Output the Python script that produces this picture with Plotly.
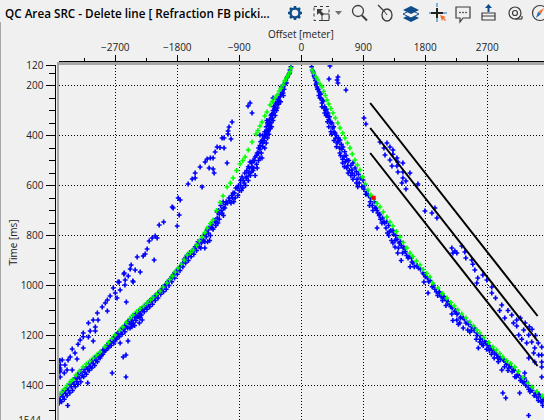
import plotly.graph_objects as go

W, H = 544, 420
BG = "#f0f0f0"

x_ticks = [-2700, -1800, -900, 0, 900, 1800, 2700]
x_minor = [-3150, -2250, -1350, -450, 450, 1350, 2250, 3150]
y_ticks = [120, 200, 400, 600, 800, 1000, 1200, 1400]
y_minor = [150, 250, 300, 350, 450, 500, 550, 650, 700, 750, 850, 900, 950, 1050, 1100, 1150, 1250, 1300, 1350, 1450, 1500]

green_left = [(-150,130),(-164,146),(-190,158),(-215,170),(-240,182),(-265,198),(-295,212),(-320,222),(-350,238),(-381,250),(-420,264),(-454,278),(-497,306),(-530,322),(-570,346),(-600,362),(-630,380),(-657,394),(-715,426),(-770,458),(-816,486),(-850,500),(-889,514),(-940,540),(-990,570),(-1030,590),(-1077,606),(-1135,642),(-1180,668),(-1230,700),(-1280,738),(-1320,752),(-1367,770),(-1400,788),(-1440,806),(-1480,822),(-1520,840),(-1570,858),(-1610,868),(-1657,878),(-1700,898),(-1740,915),(-1790,930),(-1831,946),(-1870,962),(-1910,976),(-1949,990),(-2005,1006),(-2050,1022),(-2100,1035),(-2150,1048),(-2190,1058),(-2240,1070),(-2290,1082),(-2340,1092),(-2390,1104),(-2443,1118),(-2490,1132),(-2540,1148),(-2590,1166),(-2640,1180),(-2704,1198),(-2750,1212),(-2800,1228),(-2850,1244),(-2922,1266),(-2970,1278),(-3020,1290),(-3070,1302),(-3120,1314),(-3168,1326),(-3220,1342),(-3270,1358),(-3320,1376),(-3357,1386),(-3400,1400),(-3440,1414),(-3480,1426),(-3517,1438)]

green_right = [(155,138),(180,150),(213,166),(240,178),(270,194),(300,206),(325,224),(350,240),(373,258),(400,274),(430,292),(460,310),(495,330),(530,350),(561,370),(600,390),(634,410),(670,430),(706,450),(740,474),(779,498),(815,518),(851,538),(890,566),(930,594),(967,618),(1010,638),(1050,655),(1100,672),(1142,686),(1190,706),(1240,726),(1287,746),(1330,762),(1380,784),(1432,806),(1480,828),(1530,850),(1577,870),(1620,884),(1670,902),(1722,918),(1770,936),(1820,952),(1867,966),(1910,990),(1983,1010),(2050,1032),(2113,1050),(2170,1068),(2220,1082),(2272,1098),(2330,1114),(2390,1130),(2446,1146),(2500,1162),(2550,1178),(2591,1190),(2650,1208),(2720,1228),(2780,1246),(2830,1258),(2880,1272),(2925,1286),(2980,1300),(3040,1312),(3098,1326),(3150,1344),(3220,1368),(3287,1390),(3350,1406),(3420,1424),(3505,1442)]

blue_left_band = [(-150,125),(-164,138),(-180,155),(-200,165),(-236,190),(-215,190),(-245,195),(-260,205),(-290,205),(-265,230),(-300,235),(-260,240),(-330,250),(-350,255),(-300,265),(-330,275),(-410,250),(-380,280),(-400,285),(-360,300),(-400,310),(-440,320),(-420,330),(-460,335),(-483,350),(-500,340),(-440,350),(-470,360),(-510,365),(-450,372),(-490,378),(-530,385),(-470,395),(-520,400),(-560,400),(-600,398),(-540,420),(-590,425),(-600,440),(-560,445),(-620,450),(-580,470),(-640,470),(-600,490),(-670,486),(-700,500),(-650,515),(-715,526),(-744,506),(-700,540),(-770,525),(-790,540),(-740,560),(-820,550),(-860,566),(-830,590),(-880,580),(-910,600),(-870,620),(-950,610),(-990,630),(-960,650),(-1010,640),(-1050,650),(-1020,670),(-1090,665),(-1135,666),(-1110,690),(-1170,680),(-1150,710),(-1200,700),(-1222,706),(-1190,735),(-1260,740),(-1240,760),(-1300,755),(-1280,775),(-1340,770),(-1367,778),(-1320,800),(-1400,795),(-1360,825),(-1440,815),(-1400,850),(-1480,825),(-1480,845),(-1520,840),(-1520,860),(-1560,860),(-1560,875),(-1600,875),(-1600,885),(-1640,880),(-1640,900),(-1680,890),(-1680,910),(-1720,910),(-1720,925),(-1760,925),(-1760,940),(-1800,940),(-1800,955),(-1840,950),(-1840,970),(-1880,965),(-1880,985),(-1920,980),(-1920,1000),(-1960,995),(-1960,1015),(-2000,1005),(-2000,1025),(-2040,1020),(-2040,1035),(-2080,1030),(-2080,1050),(-2120,1040),(-2120,1060),(-2160,1050),(-2160,1075),(-2200,1060),(-2200,1085),(-2240,1072),(-2240,1095),(-2280,1085),(-2280,1105),(-2320,1095),(-2320,1118),(-2310,1138),(-2360,1105),(-2360,1125),(-2400,1112),(-2400,1140),(-2440,1120),(-2440,1150),(-2486,1170),(-2470,1155),(-2480,1135),(-2520,1145),(-2520,1170),(-2560,1160),(-2560,1185),(-2600,1170),(-2600,1195),(-2640,1185),(-2640,1205),(-2680,1195),(-2680,1215),(-2720,1205),(-2720,1230),(-2760,1220),(-2760,1240),(-2800,1232),(-2800,1250),(-2840,1245),(-2840,1260),(-2880,1258),(-2880,1275),(-2920,1270),(-2920,1290),(-2960,1280),(-2960,1305),(-3000,1290),(-3000,1320),(-3040,1300),(-3040,1330),(-3080,1312),(-3080,1340),(-3120,1325),(-3120,1355),(-3160,1335),(-3160,1365),(-3200,1345),(-3200,1385),(-3240,1355),(-3240,1395),(-3280,1370),(-3280,1405),(-3320,1385),(-3320,1420),(-3360,1395),(-3360,1430),(-3400,1410),(-3400,1440),(-3440,1420),(-3440,1455),(-3480,1435),(-3480,1465),(-3515,1445),(-3515,1470),(-3390,1480)]

blue_left_fill = [(-170,150),(-210,170),(-225,180),(-250,215),(-280,222),(-310,245),(-320,262),(-340,268),(-370,270),(-350,290),(-385,295),(-410,300),(-380,320),(-430,315),(-410,340),(-460,350),(-430,365),(-490,350),(-470,375),(-510,385),(-480,385),(-500,395),(-530,400),(-490,410),(-540,410),(-510,430),(-570,420),(-560,430),(-530,450),(-600,455),(-570,490),(-620,470),(-650,480),(-620,500),(-680,500),(-640,530),(-720,510),(-690,530),(-670,560),(-750,530),(-720,545),(-760,550),(-790,565),(-770,580),(-800,570),(-840,580),(-810,600),(-880,600),(-850,610),(-900,620),(-930,610),(-920,640),(-970,630),(-1000,650),(-980,665),(-1040,660),(-1070,670),(-1100,675),(-1130,690),(-1160,700),(-1130,720),(-1190,715),(-1220,730),(-1210,750),(-1250,745),(-1290,770),(-1310,770),(-1350,790),(-1330,820),(-1380,805),(-1420,820),(-1400,825),(-1450,830),(-1460,850),(-1500,825),(-1540,845),(-1580,860),(-1620,868),(-1660,880),(-1700,895),(-1740,918),(-1780,932),(-1820,945),(-1860,958),(-1900,975),(-1940,985),(-1980,1000),(-2020,1012),(-2060,1025),(-2100,1040),(-2140,1050),(-2180,1062),(-2220,1078),(-2260,1088),(-2300,1098),(-2340,1112),(-2380,1125),(-2420,1128),(-2460,1140),(-2500,1150),(-2540,1165),(-2580,1175),(-2620,1190),(-2660,1200),(-2700,1212),(-2740,1222),(-2780,1238),(-2820,1248),(-2860,1262),(-2900,1278),(-2940,1288),(-2980,1300),(-3020,1312),(-3060,1325),(-3100,1335),(-3140,1348),(-3180,1360),(-3220,1370),(-3260,1385),(-3300,1395),(-3340,1405),(-3380,1420),(-3420,1432),(-3460,1445),(-3500,1458),(-2350,1150),(-2420,1160),(-2460,1165),(-2340,1128)]

blue_left_scatter = [(-744,270),(-773,282),(-715,310),(-1005,346),(-1049,366),(-1063,382),(-1063,394),(-1150,410),(-1121,410),(-1020,414),(-1222,446),(-1180,448),(-1121,450),(-1251,466),(-1280,490),(-1320,490),(-1367,494),(-1396,506),(-1077,510),(-1469,526),(-1338,530),(-1280,534),(-1265,550),(-1541,550),(-1541,570),(-1584,574),(-1642,594),(-1440,606),(-1787,650),(-1758,658),(-1874,686),(-1860,690),(-1772,718),(-1998,746),(-2063,758),(-1801,762),(-2121,802),(-2208,822),(-2165,810),(-2092,810),(-2238,854),(-2266,874),(-2295,882),(-2382,886),(-2136,898),(-2469,918),(-2484,934),(-2411,938),(-2338,946),(-2570,950),(-2512,962),(-2643,986),(-2556,978),(-2440,986),(-2575,954),(-2445,982),(-2660,986),(-2730,1010),(-2560,998),(-2630,1018),(-2700,1030),(-2775,1042),(-2675,1050),(-2540,1066),(-2815,1058),(-2845,1070),(-2890,1086),(-2815,1102),(-2960,1110),(-3020,1138),(-2950,1138),(-3090,1150),(-2990,1166),(-3065,1182),(-3165,1190),(-2990,1182),(-3090,1206),(-3210,1218),(-3165,1205),(-3020,1222),(-3240,1235),(-3165,1250),(-3325,1254),(-3285,1270),(-3355,1286),(-3255,1294),(-3385,1298),(-3470,1298),(-3500,1318),(-3430,1318),(-3500,1338),(-3400,1338),(-3325,1338),(-3500,1366),(-2745,1350),(-2545,1366),(-2545,1278),(-2585,1286),(-2630,1230),(-2515,1222),(-3505,1300),(-3505,1330),(-3505,1345),(-3440,1350),(-3250,1370),(-3100,1390)]

blue_right_band = [(150,125),(165,140),(175,150),(190,165),(200,170),(215,195),(228,206),(245,215),(271,230),(255,240),(285,250),(300,270),(320,262),(340,285),(365,295),(387,310),(360,320),(410,325),(445,350),(420,345),(470,365),(430,385),(490,390),(510,400),(540,410),(561,418),(520,430),(580,435),(605,446),(560,470),(630,465),(650,480),(663,498),(600,510),(690,500),(720,520),(735,538),(660,530),(750,510),(780,530),(800,545),(720,560),(830,555),(860,570),(895,578),(800,590),(920,600),(950,625),(975,640),(1010,650),(1060,665),(990,680),(1085,690),(1040,700),(1110,710),(1130,720),(1170,750),(1150,735),(1100,770),(1200,745),(1230,770),(1250,790),(1280,785),(1310,820),(1340,795),(1360,846),(1390,815),(1420,830),(1400,870),(1450,840),(1480,850),(1510,865),(1450,900),(1550,890),(1606,906),(1580,925),(1640,925),(1700,930),(1765,950),(1800,965),(1850,985),(1780,986),(1840,1030),(1900,1005),(1940,1015),(1980,1040),(2010,1030),(2050,1060),(2080,1050),(2100,1080),(2130,1065),(2170,1085),(2185,1114),(2200,1140),(2240,1100),(2280,1155),(2258,1138),(2260,1115),(2301,1150),(2320,1125),(2350,1170),(2370,1135),(2417,1178),(2446,1186),(2420,1150),(2470,1165),(2510,1180),(2550,1190),(2540,1215),(2591,1200),(2591,1226),(2570,1250),(2630,1215),(2640,1240),(2680,1228),(2690,1255),(2720,1240),(2750,1250),(2760,1275),(2780,1260),(2800,1290),(2838,1278),(2860,1305),(2880,1285),(2910,1338),(2925,1295),(2950,1325),(2970,1305),(3000,1340),(3026,1318),(3060,1345),(3080,1335),(3120,1365),(3140,1355),(3180,1380),(3214,1386),(3240,1370),(3260,1400),(3290,1400),(3320,1425),(3350,1420),(3380,1440),(3417,1446),(3450,1435),(3480,1465),(3510,1455),(3505,1480),(3243,1350),(2925,1430),(2968,1450),(3170,1430),(3490,1366),(3300,1520)]

blue_right_fill = [(170,145),(185,160),(205,180),(225,190),(235,215),(260,225),(280,235),(270,250),(310,260),(300,285),(330,290),(350,300),(340,310),(375,320),(400,335),(380,345),(430,350),(400,365),(455,370),(440,395),(475,385),(500,410),(475,420),(530,425),(510,445),(555,450),(590,455),(570,480),(620,485),(600,495),(640,505),(625,525),(675,520),(700,540),(680,550),(740,550),(770,560),(750,575),(810,575),(840,590),(820,605),(880,605),(910,615),(935,635),(1000,665),(1030,680),(1070,690),(1100,700),(1140,715),(1180,730),(1210,750),(1240,745),(1270,760),(1300,780),(1270,800),(1330,780),(1330,830),(1370,800),(1360,820),(1410,850),(1440,825),(1470,870),(1500,850),(1530,880),(1570,885),(1600,890),(1620,910),(1680,920),(1730,935),(1780,955),(1830,970),(1870,980),(1920,1000),(1960,1025),(2000,1025),(2030,1045),(2070,1045),(2110,1060),(2150,1075),(2190,1090),(2230,1105),(2270,1110),(2310,1130),(2350,1130),(2390,1150),(2430,1155),(2470,1180),(2510,1170),(2550,1200),(2600,1215),(2620,1235),(2660,1225),(2700,1235),(2730,1260),(2770,1255),(2810,1270),(2850,1290),(2890,1295),(2940,1300),(2980,1315),(3010,1330),(3040,1325),(3090,1340),(3100,1365),(3150,1360),(3190,1370),(3230,1390),(3270,1385),(3300,1415),(3340,1410),(3400,1430),(3440,1460),(3500,1465),(3470,1445)]

blue_right_scatter = [(416,122),(532,166),(520,178),(402,174),(532,190),(648,218),(910,330),(938,354),(1142,426),(1243,430),(1200,450),(1287,446),(1330,458),(1330,475),(1215,478),(1287,498),(1388,490),(1403,506),(1475,510),(1316,522),(1388,522),(1403,546),(1475,546),(1577,550),(1475,570),(1519,582),(1461,590),(1693,594),(1519,614),(1795,702),(1940,690),(1896,710),(1969,730),(2185,850),(2229,862),(2200,870),(2258,870),(2330,842),(2374,866),(2388,890),(2475,898),(2490,915),(2519,938),(2562,970),(2548,990),(2635,958),(2693,978),(2765,1006),(2765,1030),(2820,1050),(2910,1078),(2880,1100),(3055,1118),(2953,1130),(3000,1100),(3127,1138),(3127,1162),(3228,1178),(3156,1198),(3301,1198),(3345,1226),(3272,1230),(3388,1250),(3446,1278),(3373,1270),(3490,1246),(3490,1306),(3301,1290),(3388,1306),(3490,1278),(3490,1326),(3250,1150),(3310,1165),(3350,1175),(3400,1200),(3200,1215),(3440,1230),(3180,1130),(3080,1150)]

guide_offset_start = [1000, 1000, 1000]
guide_time_start = [270, 370, 470]
guide_offset_end = [3430, 3430, 3430]
guide_time_end = [1122, 1222, 1322]

red_offset = [1051]
red_time = [649]

def xs(p): return [a for a, _ in p]
def ys(p): return [b for _, b in p]

blue_all = blue_left_band + blue_left_fill + blue_left_scatter + blue_right_band + blue_right_fill + blue_right_scatter
green_all = green_left + [(None, None)] + green_right

fig = go.Figure()
fig.add_trace(go.Scatter(x=xs(blue_all), y=ys(blue_all), mode="markers", name="picks",
                         marker=dict(symbol="cross", size=4, color="#0000ff", line=dict(width=0))))
fig.add_trace(go.Scatter(x=xs(green_all), y=ys(green_all), mode="markers", name="model",
                         marker=dict(symbol="cross", size=4, color="#00ff00", line=dict(width=0))))
fig.add_trace(go.Scatter(x=red_offset, y=red_time, mode="markers", name="selected",
                         marker=dict(symbol="square", size=4, color="#ff0000", line=dict(width=0))))
gx, gy = [], []
for a, b, c, d in zip(guide_offset_start, guide_time_start, guide_offset_end, guide_time_end):
    gx += [a, c, None]
    gy += [b, d, None]
fig.add_trace(go.Scatter(x=gx, y=gy, mode="lines", name="delete line", xaxis="x2", yaxis="y2",
                         line=dict(color="#000000", width=2)))

DARK = "#222222"
FONT = "Open Sans, Noto Sans, sans-serif"
x_range = [-3517, 3523]
y_range = [1538, 118]
x_dom = [59 / W, 1]
y_dom = [0, (H - 65) / H]
grid = dict(showgrid=True, gridcolor="#000000", gridwidth=1, griddash="1px,2px", zeroline=False, automargin=False)

fig.update_layout(
    width=W, height=H, margin=dict(l=0, r=0, t=0, b=0, pad=0), autosize=False,
    paper_bgcolor=BG, plot_bgcolor=BG, showlegend=False,
    title=dict(text="QC Area SRC - Delete line [ Refraction FB picki...", x=5 / W, xanchor="left", y=1 - 14 / H, yanchor="middle",
               font=dict(family=FONT, size=11.7, color="#000000", weight=600)),
    xaxis=dict(domain=x_dom, range=x_range, side="top", tickmode="array", tickvals=x_ticks, showticklabels=False, ticks="",
               showline=True, linecolor="#a6a6a6", linewidth=3, **grid),
    yaxis=dict(domain=y_dom, range=y_range, tickmode="array", tickvals=y_ticks, showticklabels=False, ticks="",
               showline=True, linecolor="#a6a6a6", linewidth=2, **grid),
    xaxis2=dict(domain=x_dom, range=x_range, overlaying="x", anchor="free", position=(H - 60.5) / H, side="top", automargin=False,
                tickmode="array", tickvals=x_ticks, ticks="outside", ticklen=6, tickwidth=1, tickcolor="#000000",
                showline=True, linecolor="#000000", linewidth=1, showgrid=False, zeroline=False,
                tickfont=dict(family=FONT, size=10, color=DARK),
                minor=dict(tickmode="array", tickvals=x_minor, ticks="outside", ticklen=3, tickwidth=1, tickcolor="#000000")),
    yaxis2=dict(domain=y_dom, range=y_range, overlaying="y", anchor="free", position=54.5 / W, side="left", automargin=False,
                tickmode="array", tickvals=y_ticks, ticks="outside", ticklen=9, tickwidth=1, tickcolor="#000000",
                showline=True, linecolor="#000000", linewidth=1, showgrid=False, zeroline=False,
                tickfont=dict(family=FONT, size=10, color=DARK),
                minor=dict(tickmode="array", tickvals=y_minor, ticks="outside", ticklen=6, tickwidth=1, tickcolor="#000000"),
                title=dict(text="Time [ms]", font=dict(family=FONT, size=10, color=DARK), standoff=0)),
)

fig.add_annotation(text="Offset [meter]", xref="paper", yref="paper", x=301 / W, xanchor="center", y=1 - 34 / H, yanchor="middle",
                   showarrow=False, font=dict(family=FONT, size=10, color=DARK))

# ---- window chrome and toolbar icons (page pixels) ----
def px(x): return x / W
def py(y): return 1 - y / H

# partly visible bottom tick label, carried by a zero-size shape label so it cannot push the margins
fig.add_shape(type="line", xref="paper", yref="paper", x0=px(41), x1=px(41), y0=py(421), y1=py(421),
              line=dict(width=0), label=dict(text="1544", textposition="start", xanchor="right", yanchor="middle",
                                            font=dict(family=FONT, size=10, color=DARK)))

def line(x0, y0, x1, y1, color, width=1, dash=None):
    fig.add_shape(type="line", xref="paper", yref="paper", x0=px(x0), y0=py(y0), x1=px(x1), y1=py(y1),
                  line=dict(color=color, width=width, dash=dash))

def circle(cx, cy, rx, ry, color, width=1, fill=None):
    fig.add_shape(type="circle", xref="paper", yref="paper", x0=px(cx - rx), x1=px(cx + rx), y0=py(cy - ry), y1=py(cy + ry),
                  line=dict(color=color, width=width), fillcolor=fill or "rgba(0,0,0,0)")

def rect(x0, y0, x1, y1, color, width=1, fill=None, dash=None):
    fig.add_shape(type="rect", xref="paper", yref="paper", x0=px(x0), x1=px(x1), y0=py(y0), y1=py(y1),
                  line=dict(color=color, width=width, dash=dash), fillcolor=fill or "rgba(0,0,0,0)")

def poly(points, fill, color=None, width=0):
    d = "M " + " L ".join(f"{px(a):.5f},{py(b):.5f}" for a, b in points) + " Z"
    fig.add_shape(type="path", xref="paper", yref="paper", path=d, fillcolor=fill,
                  line=dict(color=color or fill, width=width))

NAVY = "#0f4c8a"
ICON = "#3c3c3c"
line(0.5, 22, 0.5, 420, "#a8a8a8", 1)
# gear
for a, b, c, d in [(295, 6, 295, 20), (288, 13, 302, 13), (290, 8, 300, 18), (290, 18, 300, 8)]:
    line(a, b, c, d, NAVY, 2.5)
circle(295, 13, 4.5, 4.5, NAVY, 2.5, BG)
# select
rect(314, 6.5, 329, 20.5, ICON, 1, None, "dot")
rect(322, 14, 329, 20.5, ICON, 1, BG)
poly([(317, 9), (323, 9), (321, 11), (324, 14), (322, 16), (319, 13), (317, 15)], ICON)
poly([(335, 11), (342, 11), (338.5, 15)], "#707070")
# magnifier
circle(358, 11, 5.5, 5.5, ICON, 1.3)
line(362, 15.5, 367, 20.5, ICON, 2)
# mouse
line(378, 5, 384, 11, ICON, 1.3)
circle(387, 15, 5, 6, ICON, 1.3, BG)
line(384, 11, 387, 15, ICON, 1)
# layers
poly([(411, 14), (419, 18), (411, 22), (403, 18)], NAVY)
poly([(411, 10), (419, 14), (411, 18), (403, 14)], BG, NAVY, 1)
poly([(411, 6), (419, 10), (411, 14), (403, 10)], NAVY)
# crosshair
line(437, 8, 437, 18, "#222222", 2)
line(431, 13, 443, 13, "#222222", 2)
line(437, 3, 437, 7, "#1a6fb5", 1)
line(437, 18, 437, 22, "#1a6fb5", 1)
line(429, 13, 431, 13, "#1a6fb5", 1)
line(443, 13, 447, 13, "#1a6fb5", 1)
poly([(440, 15), (446, 17), (444, 18), (446, 20), (445, 21), (443, 19), (442, 21)], "#f07030")
# comment
poly([(456, 7), (470, 7), (470, 18), (463, 18), (460, 22), (460, 18), (456, 18)], BG, ICON, 1.2)
for a in (460, 463, 466):
    rect(a - 0.5, 12, a + 0.5, 13, ICON, 0.5, ICON)
# upload
poly([(482, 13), (495, 13), (495, 20), (482, 20)], BG, ICON, 1.2)
line(482, 16, 495, 16, ICON, 1)
line(488.5, 12, 488.5, 6, NAVY, 2)
poly([(485, 8), (488.5, 4), (492, 8)], NAVY)
# tape
circle(515, 13, 6, 6, ICON, 1.2)
circle(515, 13, 2.5, 2.5, ICON, 1.2)
line(515, 19, 522, 19, ICON, 1.2)
line(522, 19, 522, 16, ICON, 1.2)
# compass
circle(540, 13, 7.5, 7.5, ICON, 1.2)
poly([(544, 8), (541, 14), (538, 12)], "#f07030")
poly([(536, 18), (541, 14), (538, 12)], "#1a6fb5")

fig.write_html("out.html", config=dict(displayModeBar=False),
               post_script="document.body.style.margin='0';document.documentElement.style.overflow='hidden';")
